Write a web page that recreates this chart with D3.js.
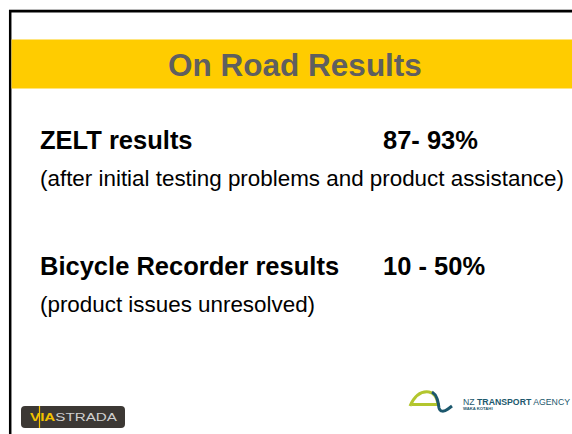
<!DOCTYPE html>
<html>
<head>
<meta charset="utf-8">
<script src="https://cdn.jsdelivr.net/npm/d3@7"></script>
<style>
  html, body { margin: 0; padding: 0; background: #fff; }
  svg { display: block; font-family: "Liberation Sans", Arial, sans-serif; }
</style>
</head>
<body>
<div id="chart"></div>
<script>
var title = "On Road Results";
var resultLabels = ["ZELT results", "Bicycle Recorder results"];
var resultValues = ["87- 93%", "10 - 50%"];
var resultNotes = ["(after initial testing problems and product assistance)", "(product issues unresolved)"];

var width = 572, height = 434;
var svg = d3.select("#chart")
    .append("svg")
    .attr("width", width)
    .attr("height", height);

// slide frame
svg.append("line")
    .attr("x1", 9).attr("x2", width)
    .attr("y1", 9.5).attr("y2", 9.5)
    .attr("stroke", "#b8b8b8").attr("stroke-width", 1);
svg.append("path")
    .attr("d", "M" + width + ",11.2H10.2V" + height)
    .attr("fill", "none")
    .attr("stroke", "#000")
    .attr("stroke-width", 2.5);

// title band
svg.append("rect")
    .attr("x", 11.5).attr("y", 39.5)
    .attr("width", width - 11.5).attr("height", 49)
    .attr("fill", "#ffcc00");
svg.append("text")
    .attr("x", 295).attr("y", 76)
    .attr("text-anchor", "middle")
    .attr("font-size", 31.5)
    .attr("font-weight", "bold")
    .attr("fill", "#5f5f5f")
    .text(title);

// result rows
var yScale = d3.scalePoint()
    .domain(d3.range(resultLabels.length))
    .range([148.5, 274.5]);

var rows = svg.append("g").selectAll("g")
    .data(resultLabels)
    .enter()
    .append("g")
    .attr("transform", function(d, i){ return "translate(0," + yScale(i) + ")"; });

rows.append("text")
    .attr("x", 40)
    .attr("font-size", 25.5)
    .attr("font-weight", "bold")
    .attr("fill", "#000")
    .text(function(d){ return d; });
rows.append("text")
    .attr("x", 383)
    .attr("font-size", 25.5)
    .attr("font-weight", "bold")
    .attr("fill", "#000")
    .text(function(d, i){ return resultValues[i]; });
rows.append("text")
    .attr("x", 40)
    .attr("y", 37)
    .attr("font-size", 22.4)
    .attr("fill", "#000")
    .text(function(d, i){ return resultNotes[i]; });

// ViaStrada logo
var via = svg.append("g").attr("transform", "translate(21,406)");
via.append("rect")
    .attr("width", 104).attr("height", 22).attr("rx", 4)
    .attr("fill", "#3c3834");
via.append("text")
    .attr("x", 9).attr("y", 15)
    .attr("font-size", 10)
    .attr("font-weight", "bold")
    .attr("textLength", 87)
    .attr("lengthAdjust", "spacingAndGlyphs")
    .html('<tspan fill="#f2c200">VIA</tspan><tspan fill="#d0d0d0" font-weight="normal">STRADA</tspan>');
via.append("line")
    .attr("x1", 18.5).attr("x2", 18.5)
    .attr("y1", 0).attr("y2", 22)
    .attr("stroke", "#f2c200").attr("stroke-width", 1.2);

// NZ Transport Agency logo
var nz = svg.append("g").attr("transform", "translate(408,389)");
nz.append("path")
    .attr("d", "M2,17 C7,6 14,2 21,3 C27,4 29,9 30,15 M4,15.5 L32,15.5")
    .attr("fill", "none")
    .attr("stroke", "#b3c62e").attr("stroke-width", 3);
nz.append("path")
    .attr("d", "M24,3 C29,6 30,12 31,19 C32,23 36,23 40,20 L44,17")
    .attr("fill", "none")
    .attr("stroke", "#1c586d").attr("stroke-width", 3);
nz.append("text")
    .attr("x", 55).attr("y", 15.5)
    .attr("font-size", 9)
    .attr("fill", "#1c586d")
    .attr("textLength", 107)
    .attr("lengthAdjust", "spacingAndGlyphs")
    .html('NZ <tspan font-weight="bold">TRANSPORT</tspan> AGENCY');
nz.append("text")
    .attr("x", 55).attr("y", 20.5)
    .attr("font-size", 4.2)
    .attr("font-weight", "bold")
    .attr("fill", "#1c586d")
    .text("WAKA KOTAHI");
</script>
</body>
</html>
